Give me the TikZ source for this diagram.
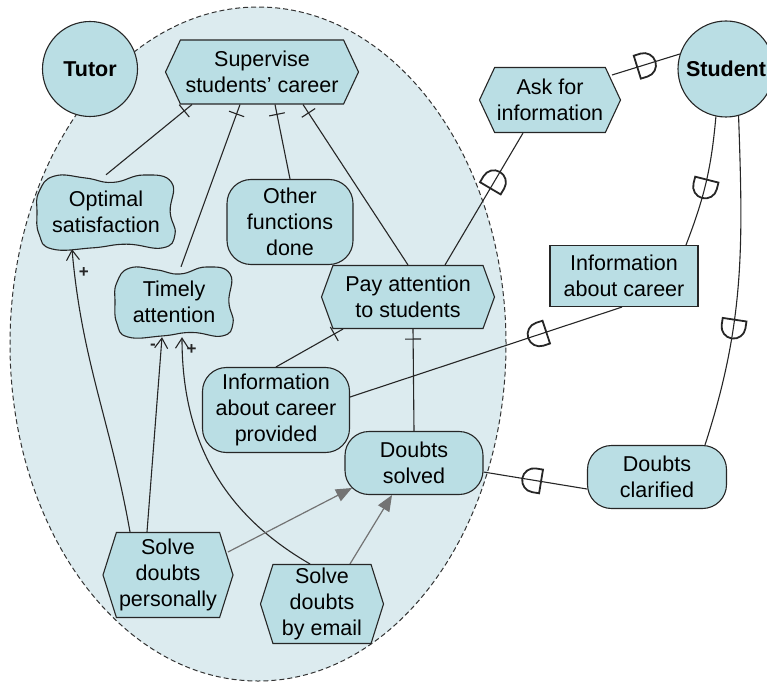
\documentclass[tikz,border=0pt]{standalone}
\usepackage{fontspec}
\setmainfont{Liberation Sans}
\usetikzlibrary{shapes.geometric,shapes.symbols,arrows.meta,decorations.markings}
\definecolor{istarfill}{RGB}{186,222,228}
\definecolor{boundfill}{RGB}{220,235,239}
\pgfdeclarelayer{background}
\pgfsetlayers{background,main}
% softgoal: name, centre, half width, half height, text
\newcommand{\softgoal}[5]{%
  \begin{scope}[shift={(#2)},x=#3pt,y=-#4pt]
    \draw[elem] plot[smooth cycle,tension=.8] coordinates {(-0.97,-0.55) (-0.75,-0.97) (-0.3,-0.92) (0.1,-0.8) (0.55,-1.0) (0.95,-0.8) (0.93,0.0) (1.0,0.6) (0.82,0.97) (0.3,0.87) (-0.2,0.97) (-0.78,1.0) (-0.97,0.6) (-1.0,0)};
  \end{scope}
  \node[align=center,minimum width={2*#3pt},minimum height={2*#4pt},inner sep=0pt] (#1) at (#2) {#5};}
\begin{document}
\begin{tikzpicture}[x=1pt,y=-1pt,
		font=\fontsize{21.5}{26}\selectfont,
		elem/.style={draw=black!85,fill=istarfill,line width=1.1pt},
		actor/.style={elem,circle,minimum size=#1,inner sep=0pt,font=\fontsize{21.5}{26}\selectfont\bfseries},
		task/.style={elem,signal,signal to=east and west,signal pointer angle=130,align=center,inner sep=0pt},
		goal/.style={elem,rectangle,rounded corners=24pt,align=center,inner sep=0pt},
		res/.style={elem,rectangle,align=center,inner sep=0pt},
		link/.style={line width=1.1pt,black!85},
		decomp/.style={link,decoration={markings,mark=at position 10pt with {\draw[link] (0,-8)--(0,8);}},postaction=decorate},
		dep/.style={link,decoration={markings,mark=at position #1 with {\draw[line width=1.8pt] (-9,-12)--(-9,12)--(-2,12) arc[start angle=90,end angle=-90,radius=12]--cycle;}},postaction=decorate},
		contrib/.style={link,-{Straight Barb[length=10pt,width=13pt]}},
		meansend/.style={line width=1.2pt,black!55,-{Triangle[length=16pt,width=13pt]}},
		sign/.style={font=\fontsize{17}{17}\selectfont\bfseries,inner sep=0pt}
	]
	\useasboundingbox (0,0) rectangle (767,684);
	\begin{pgfonlayer}{background}
		\node[draw=black!80,dash pattern=on 5pt off 3pt,line width=1pt,fill=boundfill,ellipse,minimum width=496pt,minimum height=674pt] (tutbd) at (258,344) {};
	\end{pgfonlayer}
	\node[actor=95pt] (tutor) at (90,69) {Tutor};
	\node[actor=96pt] (student) at (726,69) {Student};
	\node[task,minimum width=193pt,minimum height=64pt] (sup) at (262,72) {Supervise\\students’ career};
	\node[task,minimum width=141pt,minimum height=65pt] (ask) at (550,100) {Ask for\\information};
	\node[task,minimum width=173pt,minimum height=63pt,signal pointer angle=140] (pay) at (408,297) {Pay attention\\to students};
	\node[task,minimum width=130pt,minimum height=85pt,signal pointer angle=145] (sdp) at (168,575) {Solve\\doubts\\personally};
	\node[task,minimum width=123pt,minimum height=79pt,signal pointer angle=145] (sde) at (322,604) {Solve\\doubts\\by email};
	\node[goal,minimum width=126pt,minimum height=85pt] (ofd) at (290,222) {Other\\functions\\done};
	\node[goal,minimum width=147pt,minimum height=85pt] (icp) at (276,410) {Information\\about career\\provided};
	\node[goal,minimum width=138pt,minimum height=63pt] (dsol) at (414,463) {Doubts\\solved};
	\node[goal,minimum width=139pt,minimum height=63pt] (dcl) at (657,477) {Doubts\\clarified};
	\node[res,minimum width=148pt,minimum height=61pt] (inf) at (624,276) {Information\\about career};
	\softgoal{opt}{106,212}{69}{37}{Optimal\\satisfaction}
	\softgoal{tim}{174,302}{59}{35}{Timely\\attention}
	\begin{pgfonlayer}{background}
		\draw[decomp] ([xshift=-70pt]sup.south) -- (opt.north);
		\draw[decomp] ([xshift=-22pt]sup.south) -- ([xshift=7pt]tim.north);
		\draw[decomp] ([xshift=13pt]sup.south) -- (ofd.north);
		\draw[decomp] ([xshift=41pt]sup.south) -- (pay.north);
		\draw[decomp] ([xshift=-65pt]pay.south) -- (icp.north);
		\draw[decomp] ([xshift=5pt]pay.south) -- (dsol.north);
		\draw[dep=0.64] ([xshift=37pt]pay.north) -- ([xshift=-27pt]ask.south);
		\draw[dep=0.5] ([xshift=62pt,yshift=25pt]ask.center) -- (student.162);
		\draw[dep=0.55] (student.258) to[bend left=8] ([xshift=62pt]inf.north);
		\draw[dep=0.31] ([xshift=-2pt]inf.south) -- ([yshift=13pt]icp.east);
		\draw[dep=0.64] (student.285) to[out=-88,in=72] ([xshift=48pt]dcl.north);
		\draw[dep=0.53] ([yshift=-12pt]dcl.west) -- ([yshift=-9pt]dsol.east);
		\draw[contrib] ([xshift=-38pt]sdp.north) to[out=100,in=-85] node[sign,pos=.93,right=4pt] {+} ([xshift=-34pt]opt.south);
		\draw[contrib] ([xshift=-21pt]sdp.north) -- node[sign,pos=.95,left=5pt] {-} ([xshift=-12pt]tim.south);
		\draw[contrib] ([xshift=-12pt]sde.north) to[out=150,in=-90] node[sign,pos=.96,right=4pt] {+} ([xshift=8pt]tim.south);
		\draw[meansend] ([xshift=60pt,yshift=23pt]sdp.center) -- ([xshift=-62pt,yshift=-25pt]dsol.center);
		\draw[meansend] ([xshift=28pt]sde.north) -- ([xshift=-22pt]dsol.south);
	\end{pgfonlayer}
\end{tikzpicture}
\end{document}
